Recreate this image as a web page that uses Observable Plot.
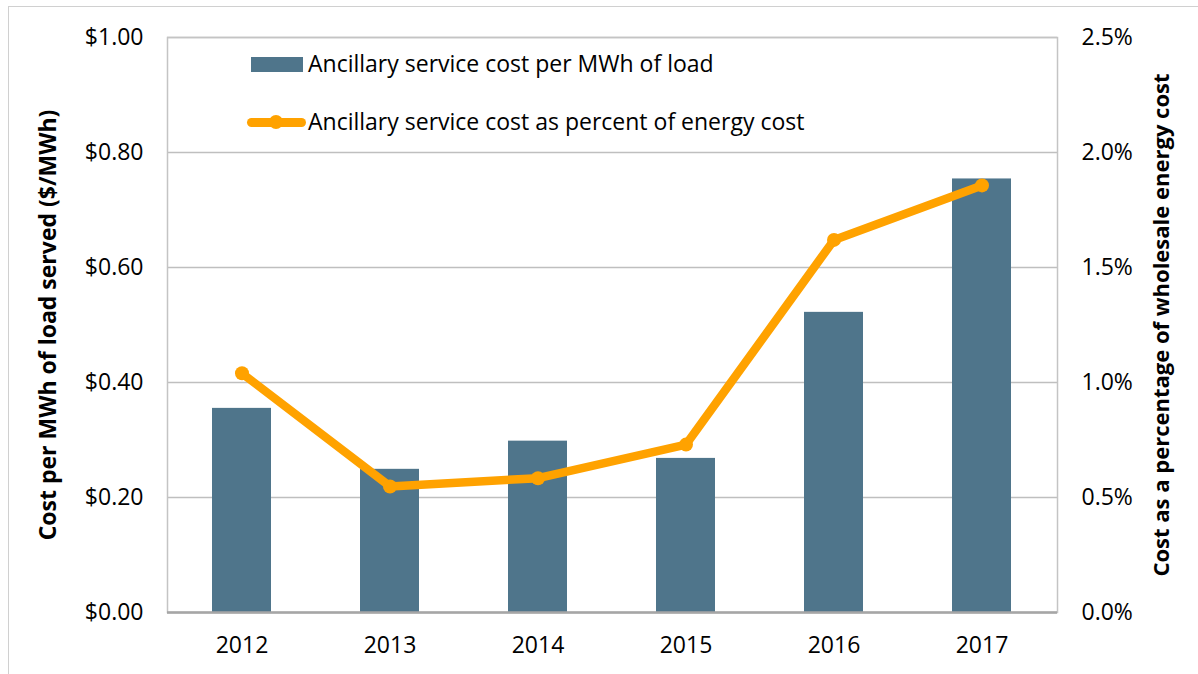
<!DOCTYPE html>
<html>
<head>
<meta charset="utf-8">
<script src="https://cdn.jsdelivr.net/npm/d3@7"></script>
<script src="https://cdn.jsdelivr.net/npm/@observablehq/plot@0.6"></script>
<style>
  body { margin: 0; background: #fff; }
  #wrap { position: relative; width: 1198px; height: 674px; overflow: hidden; font-family: "Open Sans", sans-serif; }
  #outer { position: absolute; left: 8px; top: 6px; width: 1300px; height: 800px; border: 1.5px solid #d0d0d0; box-sizing: border-box; pointer-events: none; }
  .leg { position: absolute; font-size: 23px; line-height: 23px; color: #000; white-space: nowrap; }
</style>
</head>
<body>
<div id="wrap">
  <div id="outer"></div>
</div>
<script>
const years = ["2012", "2013", "2014", "2015", "2016", "2017"];
const costPerMWh = [0.355, 0.249, 0.298, 0.268, 0.522, 0.754];
const pctOfEnergy = [1.040, 0.548, 0.584, 0.730, 1.620, 1.857];
const dollarTicks = [0, 0.2, 0.4, 0.6, 0.8, 1.0];
const dollarTickLabels = ["$0.00", "$0.20", "$0.40", "$0.60", "$0.80", "$1.00"];
const pctTickLabels = ["0.0%", "0.5%", "1.0%", "1.5%", "2.0%", "2.5%"];
const pctMax = 2.5;
const seriesNames = ["Ancillary service cost per MWh of load", "Ancillary service cost as percent of energy cost"];
const leftTitle = "Cost per MWh of load served ($/MWh)";
const rightTitle = "Cost as a percentage of wholesale energy cost";

const barColor = "#4f758b";
const lineColor = "#ffa200";

const data = years.map((y, i) => ({year: y, cost: costPerMWh[i], pct: pctOfEnergy[i]}));

const chart = Plot.plot({
  width: 1198,
  height: 674,
  marginLeft: 167,
  marginRight: 141,
  marginTop: 37,
  marginBottom: 62,
  style: {fontFamily: "Open Sans, sans-serif", fontSize: "23px", color: "#000", background: "#fff"},
  x: {type: "band", domain: years, paddingInner: 0.6, paddingOuter: 0.3},
  y: {domain: [0, 1]},
  marks: [
    Plot.gridY(dollarTicks, {stroke: "#bfbfbf", strokeOpacity: 1, strokeWidth: 1.5}),
    Plot.frame({stroke: "#c4c4c4", strokeWidth: 1.5}),
    Plot.barY(data, {x: "year", y: "cost", fill: barColor}),
    Plot.ruleY([0], {stroke: "#a6a6a6", strokeWidth: 2.5}),
    Plot.line(data, {x: "year", y: d => d.pct / pctMax, stroke: lineColor, strokeWidth: 8.5, strokeLinejoin: "round"}),
    Plot.dot(data, {x: "year", y: d => d.pct / pctMax, r: 7, fill: lineColor, stroke: null}),
    Plot.axisX({tickSize: 0, tickPadding: 24, fontSize: 23, label: null}),
    Plot.axisY(dollarTicks, {
      anchor: "left", tickSize: 0, tickPadding: 24, fontSize: 23,
      tickFormat: d => dollarTickLabels[dollarTicks.indexOf(d)],
      label: leftTitle, labelAnchor: "center", labelArrow: "none", labelOffset: 128
    }),
    Plot.axisY(dollarTicks, {
      anchor: "right", tickSize: 0, tickPadding: 24, fontSize: 23,
      tickFormat: d => pctTickLabels[dollarTicks.indexOf(d)],
      label: rightTitle, labelAnchor: "center", labelArrow: "none", labelOffset: 111
    })
  ]
});

// bold axis titles
const labels = chart.querySelectorAll("g[aria-label='y-axis label']");
labels.forEach((el, i) => {
  el.style.fontWeight = "bold";
  el.style.fontSize = i === 0 ? "23px" : "22px";
});

const wrap = document.getElementById("wrap");
wrap.insertBefore(chart, wrap.firstChild);

// Legend (inside plot area, top-left)
const leg = document.createElement("div");
leg.innerHTML = `
  <div style="position:absolute;left:251px;top:57px;width:52px;height:15px;background:${barColor}"></div>
  <div class="leg" style="left:308px;top:52px;">${seriesNames[0]}</div>
  <div style="position:absolute;left:247px;top:117.5px;width:59px;height:9px;border-radius:4.5px;background:${lineColor}"></div>
  <div style="position:absolute;left:269px;top:115px;width:14px;height:14px;border-radius:7px;background:${lineColor}"></div>
  <div class="leg" style="left:308px;top:110px;">${seriesNames[1]}</div>
`;
wrap.appendChild(leg);
</script>
</body>
</html>
